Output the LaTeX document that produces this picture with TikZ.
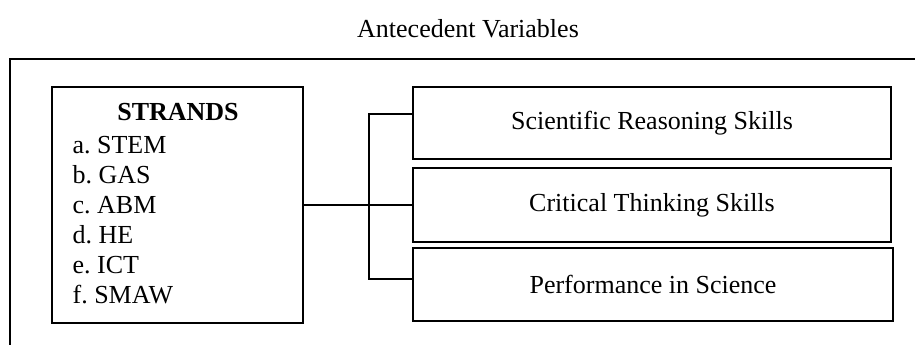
\documentclass[tikz,border=0pt]{standalone}
\usepackage{fontspec}
\setmainfont{Liberation Serif}
\frenchspacing
\begin{document}
\begin{tikzpicture}[x=1pt,y=-1pt,
  line width=1.2pt,
  every node/.style={font=\fontsize{26}{30}\selectfont},
  box/.style={draw, rectangle, inner sep=0pt},
  lbl/.style={inner sep=0pt}]
\useasboundingbox (0,0) rectangle (915,345);
% title
\node[lbl] (title) at (468,29) {Antecedent Variables};
% outer frame (top and left sides)
\coordinate (fl) at (10,345);
\coordinate (ftl) at (10,59);
\coordinate (fr) at (915,59);
\draw (fl) -- (ftl) -- (fr);
% strands box
\node[box, minimum width=251pt, minimum height=236pt] (strands) at (177.5,205) {};
\node[lbl, font=\fontsize{26}{30}\selectfont\bfseries] (sttitle) at (178,112) {STRANDS};
\node[lbl, anchor=west] (s1) at (72,145) {a. STEM};
\node[lbl, anchor=west] (s2) at (72,175) {b. GAS};
\node[lbl, anchor=west] (s3) at (72,205) {c. ABM};
\node[lbl, anchor=west] (s4) at (72,235) {d. HE};
\node[lbl, anchor=west] (s5) at (72,265) {e. ICT};
\node[lbl, anchor=west] (s6) at (72,295) {f. SMAW};
% right boxes
\node[box, minimum width=478pt, minimum height=72pt] (sci) at (652,123) {Scientific Reasoning Skills};
\node[box, minimum width=478pt, minimum height=74pt] (crit) at (652,205) {Critical Thinking Skills};
\node[box, minimum width=480pt, minimum height=73pt] (perf) at (653,284.5) {Performance in Science};
% connectors
\draw (strands.east) -- (crit.west);
\coordinate (b1) at (413,114);
\coordinate (b3) at (413,279);
\draw (b1) -- ++(-44,0) |- (b3);
\end{tikzpicture}
\end{document}
